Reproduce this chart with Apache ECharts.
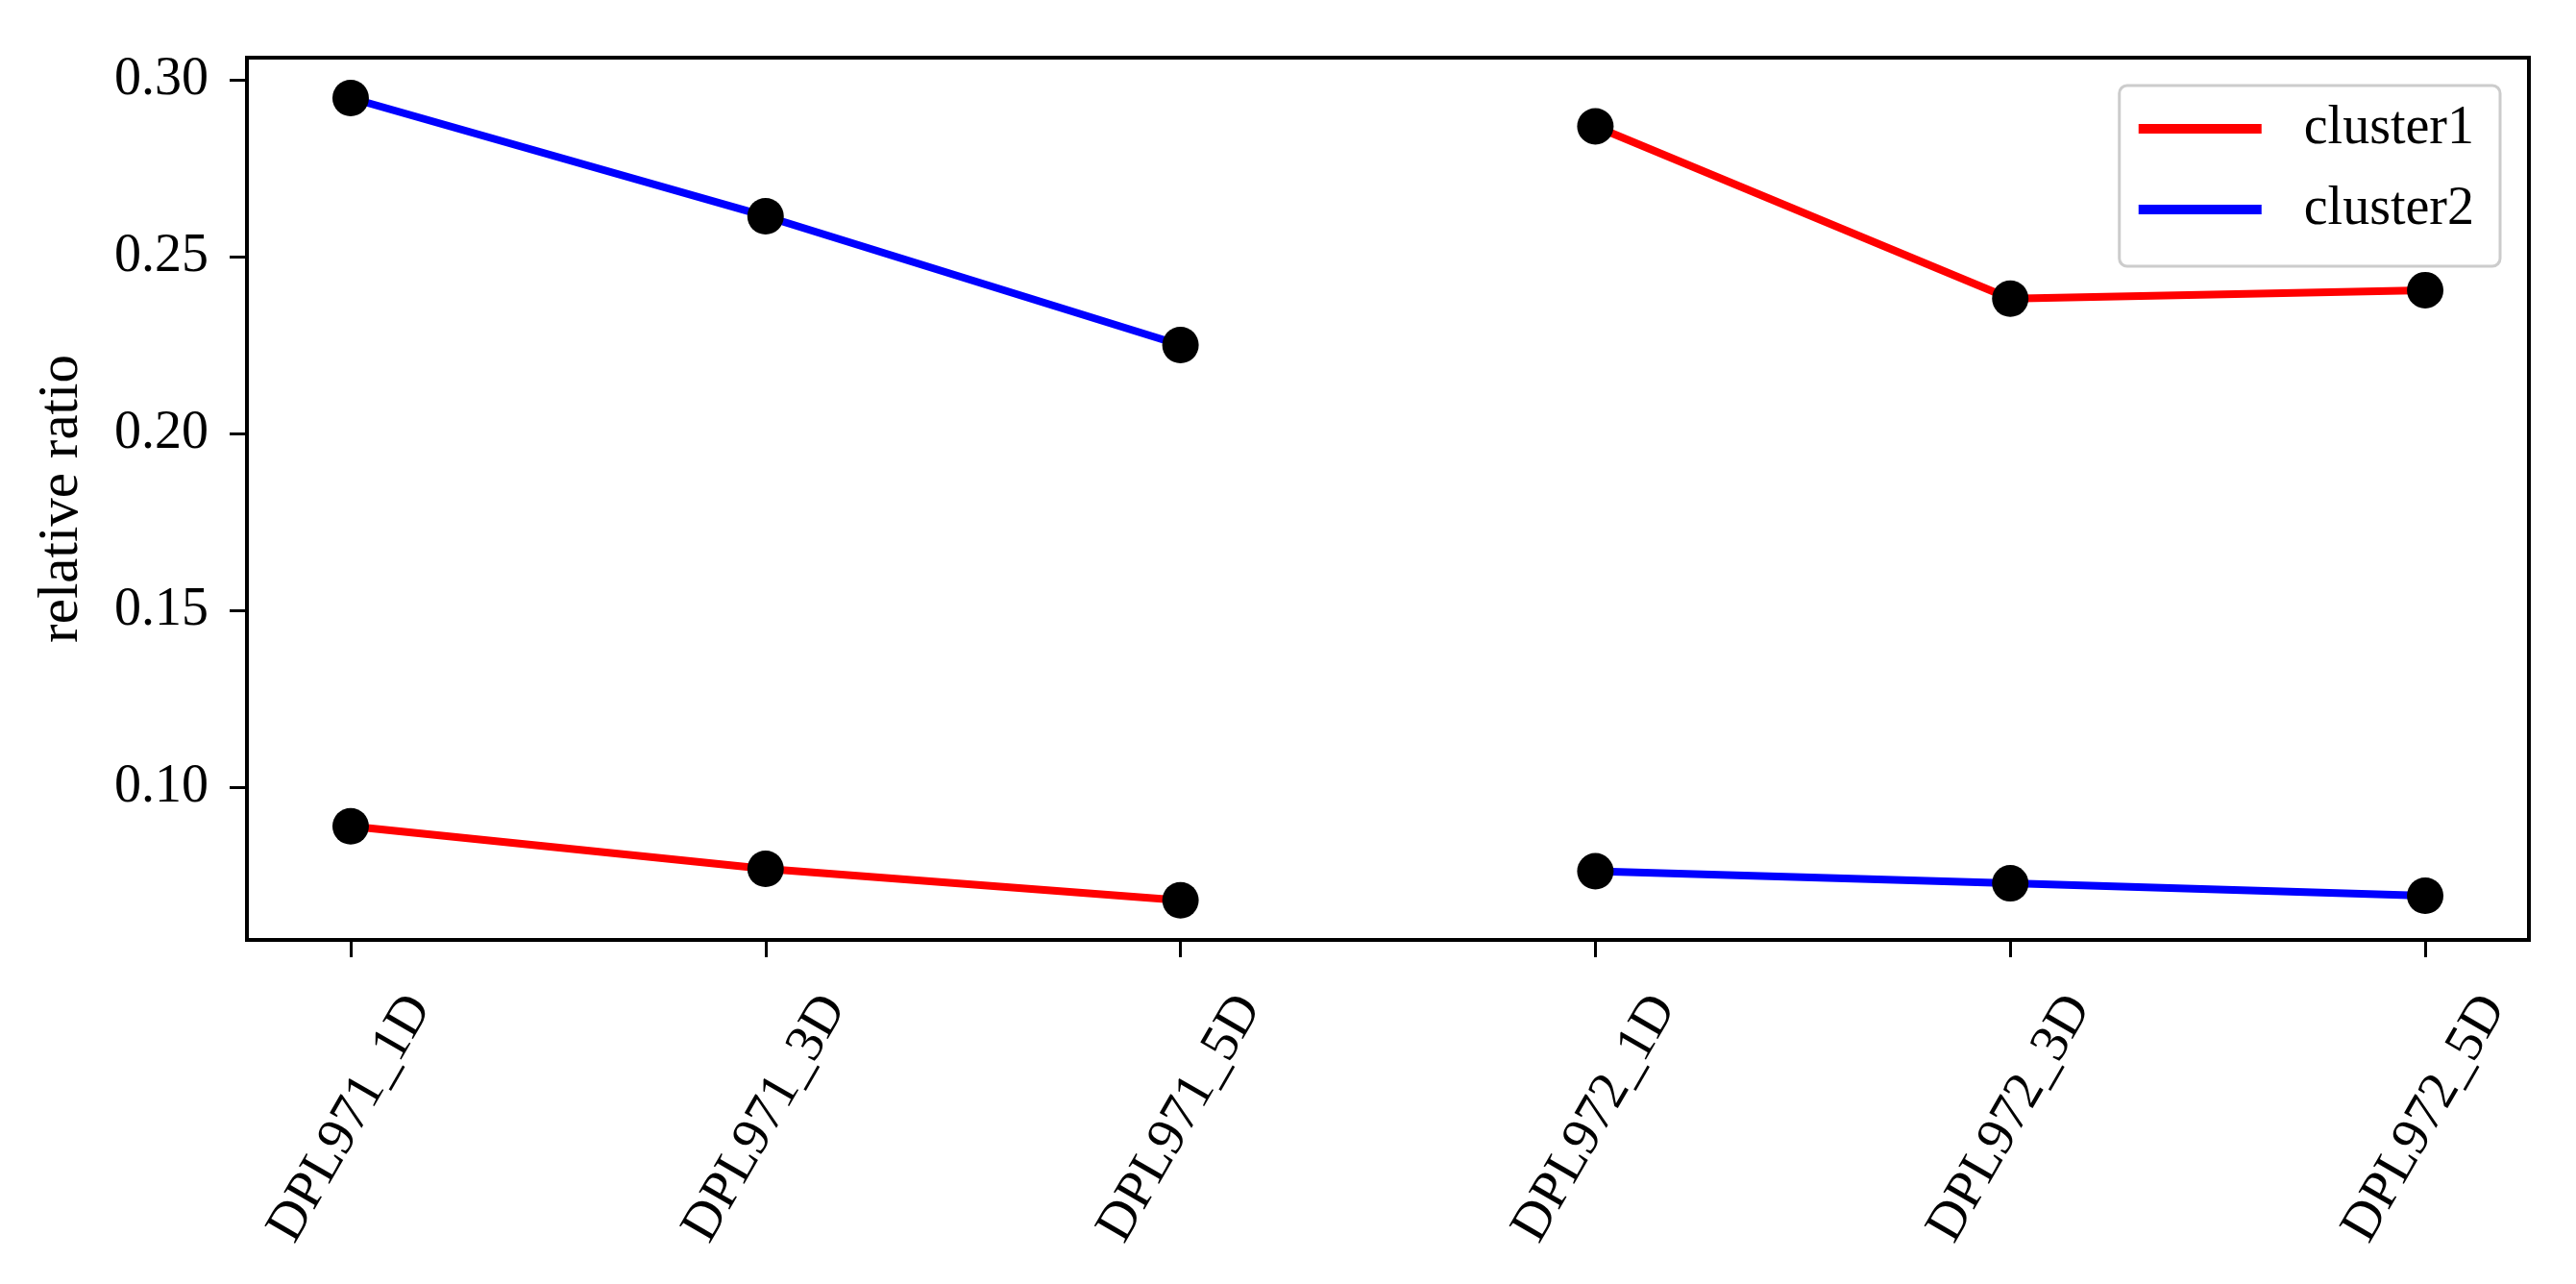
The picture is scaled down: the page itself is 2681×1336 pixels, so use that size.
<!DOCTYPE html>
<html>
<head>
<meta charset="utf-8">
<script src="https://cdn.jsdelivr.net/npm/echarts@6/dist/echarts.min.js"></script>
<style>
  html, body { margin: 0; padding: 0; background: #fff; }
  #chart { width: 2681px; height: 1336px; }
</style>
</head>
<body>
<div id="chart"></div>
<script>
// samples on the x axis
const categories = ['DPL971_1D', 'DPL971_3D', 'DPL971_5D', 'DPL972_1D', 'DPL972_3D', 'DPL972_5D']

// relative ratio per cluster, split by line (971 / 972)
const cluster1_971 = [0.0891, 0.0771, 0.0682]
const cluster1_972 = [0.2869, 0.2382, 0.2406]
const cluster2_971 = [0.2949, 0.2615, 0.2251]
const cluster2_972 = [0.0764, 0.0730, 0.0695]

const yTicks = [0.10, 0.15, 0.20, 0.25, 0.30]
const xTicks = categories.map((c, i) => i)

const FONT = 'Liberation Serif'
const RED = '#ff0000'
const BLUE = '#0000ff'

const segment = (name, color, values, offset) => ({
  name: name,
  type: 'line',
  data: values.map((v, i) => [offset + i, v]),
  symbol: 'circle',
  symbolSize: 38,
  itemStyle: { color: '#000' },
  lineStyle: { color: color, width: 8 },
  emphasis: { disabled: true },
  animation: false
})

const chart = echarts.init(document.getElementById('chart'))

const option = {
  backgroundColor: '#fff',
  animation: false,
  grid: {
    left: 257,
    right: 49,
    top: 60,
    bottom: 358,
    show: true,
    borderColor: '#000',
    borderWidth: 4,
    containLabel: false,
    outerBoundsMode: 'none'
  },
  legend: {
    orient: 'vertical',
    right: 79,
    top: 89,
    padding: [17, 27, 31, 20],
    itemWidth: 128,
    itemHeight: 10,
    itemGap: 28,
    borderColor: '#cccccc',
    borderWidth: 3,
    borderRadius: 8,
    backgroundColor: 'rgba(255,255,255,0.8)',
    textStyle: { fontFamily: FONT, fontSize: 56, color: '#000', lineHeight: 56, padding: [0, 0, 0, 39] },
    data: [
      { name: 'cluster1', icon: 'rect', itemStyle: { color: RED } },
      { name: 'cluster2', icon: 'rect', itemStyle: { color: BLUE } }
    ]
  },
  xAxis: {
    type: 'value',
    min: -0.25,
    max: 5.25,
    axisLine: { show: false, onZero: false },
    splitLine: { show: false },
    axisTick: { show: true, customValues: xTicks, length: 18, lineStyle: { color: '#000', width: 3 } },
    axisLabel: {
      customValues: xTicks,
      formatter: v => categories[Math.round(v)],
      rotate: 60,
      align: 'center',
      verticalAlign: 'middle',
      margin: 186,
      fontFamily: FONT,
      fontSize: 56,
      color: '#000'
    }
  },
  yAxis: {
    type: 'value',
    min: 0.0570,
    max: 0.3063,
    name: 'relative ratio',
    nameLocation: 'middle',
    nameGap: 163,
    nameMoveOverlap: false,
    nameTextStyle: { fontFamily: FONT, fontSize: 59, color: '#000' },
    axisLine: { show: false, onZero: false },
    splitLine: { show: false },
    axisTick: { show: true, customValues: yTicks, length: 18, lineStyle: { color: '#000', width: 3 } },
    axisLabel: {
      customValues: yTicks,
      formatter: v => v.toFixed(2),
      margin: 40,
      fontFamily: FONT,
      fontSize: 56,
      color: '#000'
    }
  },
  series: [
    segment('cluster1', RED, cluster1_971, 0),
    segment('cluster1', RED, cluster1_972, 3),
    segment('cluster2', BLUE, cluster2_971, 0),
    segment('cluster2', BLUE, cluster2_972, 3)
  ]
}

chart.setOption(option)
</script>
</body>
</html>
